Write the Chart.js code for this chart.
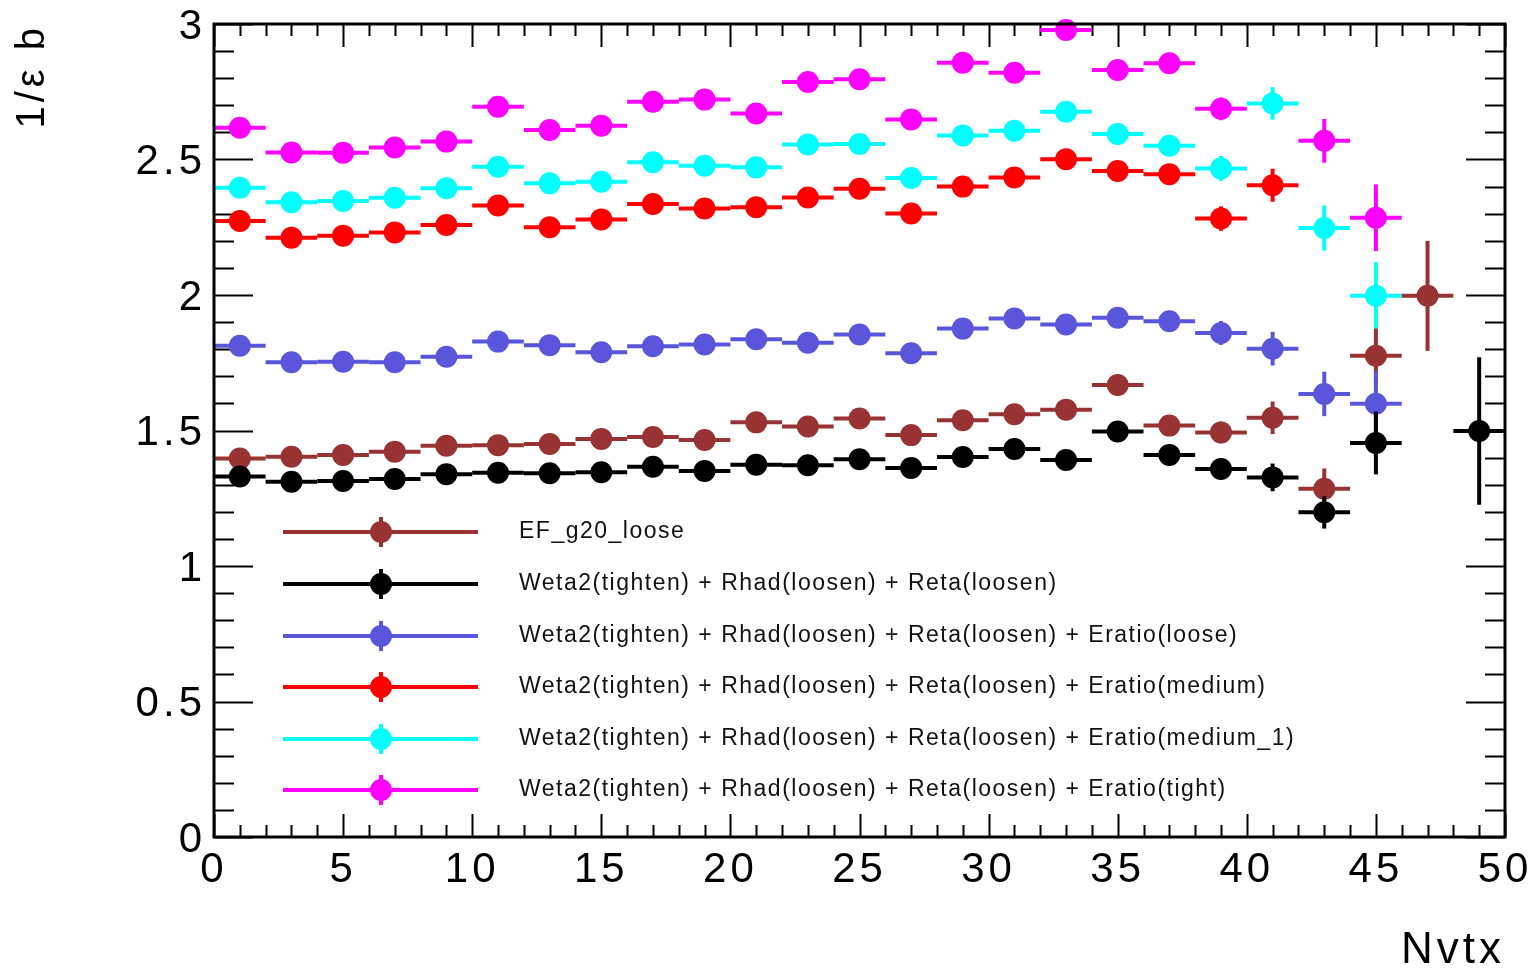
<!DOCTYPE html>
<html>
<head>
<meta charset="utf-8">
<script src="https://cdn.jsdelivr.net/npm/chart.js@4/dist/chart.umd.min.js"></script>
<style>
  html, body { margin: 0; padding: 0; background: #ffffff; }
  #wrap { width: 1535px; height: 973px; position: relative; }
</style>
</head>
<body>
<div id="wrap"><canvas id="c"></canvas></div>
<script>
// ---- data (bin centres, Nvtx bins of width 2) ----
const binCenters = [1,3,5,7,9,11,13,15,17,19,21,23,25,27,29,31,33,35,37,39,41,43,45,47,49];
const binHalfWidth = 1;

const seriesNames = [
  "EF_g20_loose",
  "Weta2(tighten) + Rhad(loosen) + Reta(loosen)",
  "Weta2(tighten) + Rhad(loosen) + Reta(loosen) + Eratio(loose)",
  "Weta2(tighten) + Rhad(loosen) + Reta(loosen) + Eratio(medium)",
  "Weta2(tighten) + Rhad(loosen) + Reta(loosen) + Eratio(medium_1)",
  "Weta2(tighten) + Rhad(loosen) + Reta(loosen) + Eratio(tight)"
];
const seriesColors = ["#993333", "#000000", "#5a56dc", "#ff0000", "#00ffff", "#ff00ff"];

const efLoose = [1.397,1.403,1.410,1.422,1.444,1.446,1.450,1.469,1.476,1.465,1.530,1.515,1.544,1.483,1.538,1.560,1.577,1.668,1.518,1.493,1.547,1.285,1.776,1.997,null];
const efLooseErr = [0.012,0.012,0.012,0.012,0.012,0.012,0.013,0.013,0.014,0.015,0.016,0.017,0.018,0.020,0.022,0.024,0.026,0.030,0.032,0.040,0.060,0.075,0.100,0.203,null];

const base = [1.330,1.311,1.314,1.321,1.339,1.344,1.342,1.346,1.366,1.351,1.374,1.372,1.394,1.362,1.402,1.432,1.391,1.496,1.410,1.358,1.327,1.198,1.454,null,1.498];
const baseErr = [0.010,0.010,0.010,0.010,0.010,0.011,0.011,0.012,0.012,0.013,0.014,0.015,0.016,0.018,0.020,0.022,0.024,0.028,0.030,0.036,0.051,0.060,0.116,null,0.272];

const eratioLoose = [1.813,1.752,1.754,1.752,1.772,1.828,1.815,1.789,1.811,1.817,1.837,1.824,1.854,1.785,1.876,1.913,1.891,1.916,1.903,1.860,1.802,1.635,1.599,null,null];
const eratioLooseErr = [0.012,0.012,0.012,0.012,0.012,0.013,0.013,0.014,0.015,0.016,0.017,0.018,0.020,0.022,0.024,0.026,0.028,0.032,0.035,0.044,0.062,0.082,0.120,null,null];

const eratioMedium = [2.273,2.211,2.219,2.231,2.258,2.330,2.250,2.279,2.336,2.319,2.324,2.360,2.392,2.301,2.400,2.434,2.501,2.458,2.446,2.282,2.405,null,null,null,null];
const eratioMediumErr = [0.014,0.014,0.014,0.014,0.014,0.015,0.015,0.016,0.017,0.018,0.019,0.020,0.022,0.024,0.026,0.028,0.030,0.034,0.037,0.045,0.061,null,null,null,null];

const eratioMedium1 = [2.396,2.342,2.347,2.359,2.394,2.473,2.412,2.418,2.490,2.477,2.471,2.555,2.557,2.432,2.589,2.606,2.676,2.594,2.551,2.467,2.707,2.247,1.997,null,null];
const eratioMedium1Err = [0.015,0.015,0.015,0.015,0.015,0.016,0.016,0.017,0.018,0.019,0.020,0.021,0.023,0.025,0.027,0.029,0.031,0.035,0.038,0.046,0.060,0.083,0.124,null,null];

const eratioTight = [2.617,2.526,2.525,2.544,2.566,2.695,2.609,2.625,2.713,2.721,2.670,2.786,2.796,2.648,2.857,2.820,2.978,2.830,2.855,2.687,null,2.569,2.285,null,null];
const eratioTightErr = [0.016,0.016,0.016,0.016,0.016,0.017,0.017,0.018,0.019,0.020,0.021,0.022,0.024,0.026,0.028,0.030,0.032,0.036,0.039,0.042,null,0.081,0.123,null,null];

const xTickStep = 5, xMin = 0, xMax = 50;
const yTickStep = 0.5, yMin = 0, yMax = 3;
const xTitle = "Nvtx";
const yTitle = "1/\u03B5 b";

// ---- build datasets ----
const seriesValues = [efLoose, base, eratioLoose, eratioMedium, eratioMedium1, eratioTight];
const seriesErrors = [efLooseErr, baseErr, eratioLooseErr, eratioMediumErr, eratioMedium1Err, eratioTightErr];
const drawOrder = [2, 0, 1, 3, 4, 5]; // lower = drawn on top

const datasets = seriesValues.map((vals, i) => ({
  label: seriesNames[i],
  data: binCenters.map((x, k) => vals[k] == null ? null : ({x: x, y: vals[k], err: seriesErrors[i][k]})).filter(p => p),
  backgroundColor: seriesColors[i],
  borderColor: seriesColors[i],
  pointRadius: 11,
  pointHoverRadius: 11,
  pointBorderWidth: 0,
  showLine: false,
  clip: false,
  order: drawOrder[i]
}));

const FONT = "'Liberation Sans', Arial, Helvetica, sans-serif";

const textSpacing = {
  id: 'textSpacing',
  beforeDraw(chart) { chart.ctx.letterSpacing = '4px'; }
};

const errorBars = {
  id: 'errorBars',
  beforeDatasetDraw(chart, args) {
    const ctx = chart.ctx;
    const xs = chart.scales.x, ys = chart.scales.y;
    const ds = chart.data.datasets[args.index];
    ctx.save();
    ctx.strokeStyle = ds.borderColor;
    ctx.lineWidth = 4;
    ctx.lineCap = 'butt';
    ds.data.forEach(p => {
      const py = ys.getPixelForValue(p.y);
      ctx.beginPath();
      ctx.moveTo(xs.getPixelForValue(p.x - binHalfWidth), py);
      ctx.lineTo(xs.getPixelForValue(p.x + binHalfWidth), py);
      ctx.stroke();
      if (p.err) {
        ctx.beginPath();
        const px = xs.getPixelForValue(p.x);
        ctx.moveTo(px, ys.getPixelForValue(p.y - p.err));
        ctx.lineTo(px, ys.getPixelForValue(p.y + p.err));
        ctx.stroke();
      }
    });
    ctx.restore();
  }
};

const frameTicks = {
  id: 'frameTicks',
  beforeDatasetsDraw(chart) {
    const ctx = chart.ctx;
    const xs = chart.scales.x, ys = chart.scales.y;
    const a = chart.chartArea;
    ctx.save();
    ctx.strokeStyle = '#000';
    ctx.lineWidth = 2;
    ctx.beginPath();
    for (let v = xMin; v <= xMax + 1e-9; v += 1) {
      const px = Math.round(xs.getPixelForValue(v)) + 0.5;
      const len = (Math.abs(v % 5) < 1e-9) ? 23 : 12;
      ctx.moveTo(px, a.bottom); ctx.lineTo(px, a.bottom - len);
      ctx.moveTo(px, a.top); ctx.lineTo(px, a.top + len);
    }
    for (let k = 0; k <= 30; k++) {
      const v = k / 10;
      const py = Math.round(ys.getPixelForValue(v)) + 0.5;
      const len = (k % 5 === 0) ? 39 : 20;
      ctx.moveTo(a.left, py); ctx.lineTo(a.left + len, py);
      ctx.moveTo(a.right, py); ctx.lineTo(a.right - len, py);
    }
    ctx.stroke();
    ctx.restore();
  },
  afterDraw(chart) {
    const ctx = chart.ctx;
    const a = chart.chartArea;
    ctx.save();
    ctx.strokeStyle = '#000';
    ctx.lineWidth = 3;
    ctx.strokeRect(a.left, a.top, a.right - a.left, a.bottom - a.top);
    // legend
    const rows = [532, 584, 636, 687, 739, 790];
    chart.data.datasets.forEach((ds, i) => {
      const y = rows[i];
      ctx.strokeStyle = ds.borderColor;
      ctx.fillStyle = ds.backgroundColor;
      ctx.lineWidth = 4;
      ctx.beginPath();
      ctx.moveTo(283, y); ctx.lineTo(478, y);
      ctx.moveTo(381, y - 15); ctx.lineTo(381, y + 15);
      ctx.stroke();
      ctx.beginPath();
      ctx.arc(381, y, 11, 0, Math.PI * 2);
      ctx.fill();
      ctx.fillStyle = '#111';
      ctx.font = "23px " + FONT;
      ctx.letterSpacing = '1.5px';
      ctx.textBaseline = 'middle';
      ctx.textAlign = 'left';
      ctx.fillText(ds.label, 519, y);
    });
    ctx.restore();
  }
};

new Chart(document.getElementById('c'), {
  type: 'scatter',
  data: { datasets: datasets },
  options: {
    responsive: true,
    maintainAspectRatio: false,
    animation: false,
    events: [],
    layout: { padding: { left: 0, right: 30, top: 24, bottom: 0 } },
    plugins: { legend: { display: false }, tooltip: { enabled: false } },
    scales: {
      x: {
        type: 'linear', min: xMin, max: xMax,
        grid: { display: false, drawTicks: false },
        border: { display: false },
        ticks: { stepSize: xTickStep, color: '#000', font: { family: FONT, size: 42 }, padding: 8, maxRotation: 0, autoSkip: false },
        title: { display: true, text: xTitle, align: 'end', color: '#000', font: { family: FONT, size: 44, lineHeight: 1 }, padding: { top: 0, bottom: 0 } },
        afterFit(s) { s.height = 136; s.paddingLeft = 0; s.paddingRight = 0; }
      },
      y: {
        type: 'linear', min: yMin, max: yMax,
        grid: { display: false, drawTicks: false },
        border: { display: false },
        ticks: {
          stepSize: yTickStep, color: '#000', font: { family: FONT, size: 42 }, padding: 8, labelOffset: 3,
          callback: (v) => String(Number(v.toFixed(1)))
        },
        title: { display: true, text: yTitle, align: 'end', color: '#000', font: { family: FONT, size: 40 }, padding: { top: 9, bottom: 0 } },
        afterFit(s) { s.width = 214; s.paddingTop = 0; s.paddingBottom = 0; }
      }
    }
  },
  plugins: [textSpacing, errorBars, frameTicks]
});
</script>
</body>
</html>
